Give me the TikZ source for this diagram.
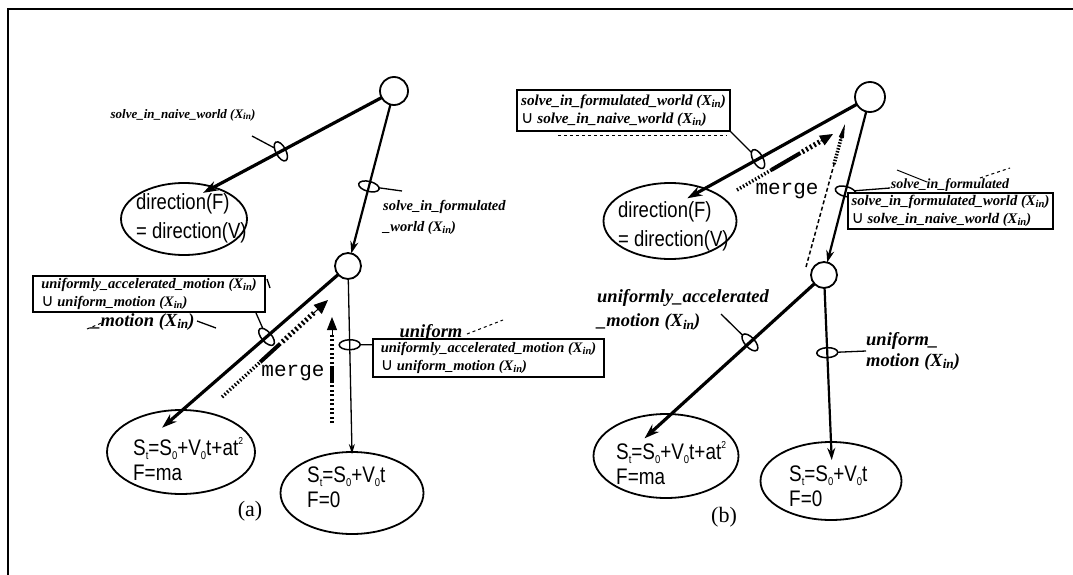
\documentclass[tikz,border=0pt]{standalone}
\usepackage{fontspec}
\usepackage{graphicx}
\setmainfont{Liberation Serif}
\newfontfamily\sansf{Liberation Sans}[FakeStretch=0.84]
\newfontfamily\monof{Liberation Mono}
\newfontfamily\symf{DejaVu Sans}
\usetikzlibrary{arrows.meta,shapes.geometric,calc}
\newcommand\lsub[1]{\raisebox{-0.3ex}{\scalebox{0.72}{#1}}}
\newcommand\xin{X\lsub{in}}
\newcommand\uni{{\symf\mdseries\upshape\fontsize{17}{17}\selectfont\symbol{"222A}}}
\newcommand\ssub[1]{\raisebox{-0.35ex}{\scalebox{0.5}{#1}}}
\newcommand\ssup[1]{\raisebox{0.95ex}{\scalebox{0.45}{#1}}}
\begin{document}
\begin{tikzpicture}[x=1pt,y=-1pt,
  frame/.style={line width=2pt},
  circ/.style={circle, draw, line width=1.8pt, minimum size=28pt, inner sep=0, outer sep=0},
  ell/.style={ellipse, draw, line width=1.8pt, inner sep=0, outer sep=0},
  etext/.style={font=\sansf\fontsize{22.5}{25}\selectfont, align=left, inner sep=0, anchor=west},
  dtext/.style={font=\sansf\fontsize{22}{29}\selectfont, align=left, inner sep=0, anchor=west},
  marker/.style={ellipse, draw, solid, line width=1.5pt, minimum width=10pt, minimum height=21pt, inner sep=0, outer sep=0},
  box/.style={draw, fill=white, line width=1.2pt, align=left, inner sep=0, font=\bfseries\itshape\fontsize{14.5}{18}\selectfont},
  lab/.style={font=\bfseries\itshape\fontsize{13}{21}\selectfont, align=left, inner sep=0},
  biglab/.style={font=\bfseries\itshape\fontsize{18.5}{24}\selectfont, align=left, inner sep=0},
  oldlab/.style={font=\bfseries\itshape\fontsize{18.5}{24}\selectfont, inner sep=0, anchor=base},
  thickedge/.style={line width=3.2pt, -{Stealth[length=15pt,width=10pt]}},
  midedge/.style={line width=2.2pt, -{Stealth[length=12pt,width=8pt]}},
  thinedge/.style={line width=1.3pt, -{Stealth[length=10pt,width=6pt]}},
  leader/.style={line width=1.3pt},
  strike/.style={line width=1pt, dashed},
  dotpart/.style={line width=3.5pt, dash pattern=on 1.5pt off 2pt},
  solidpart/.style={line width=4pt},
  hatchpart/.style={line width=5pt, dash pattern=on 2pt off 2.5pt},
  mhead/.style={line width=1pt, -{Triangle[length=14pt,width=12pt]}},
  mergetext/.style={font=\monof\fontsize{21}{21}\selectfont, inner sep=0},
  caption/.style={font=\fontsize{22}{22}\selectfont, inner sep=0}
]
\path[fill=white] (0,0) rectangle (1073,575);
\useasboundingbox (0,0) rectangle (1073,575);
% frame
\draw[frame] (7,9.5) -- (1073,9.5);
\draw[frame] (8,9) -- (8,575);

% ---------------- panel (a) ----------------
\node[circ] (A) at (394,91) {};
\node[circ, minimum size=26pt] (B) at (348,266) {};
\node[ell, minimum width=126pt, minimum height=72pt] (D1) at (184,219) {};
\node[dtext] (D1t) at (136,218) {direction(F)\\= direction(V)};
\node[ell, minimum width=148pt, minimum height=84pt] (S1) at (181,452) {};
\node[etext] (S1t) at (133,459) {S\ssub{t}=S\ssub{0}+V\ssub{0}t+at\ssup{2}\\F=ma};
\node[ell, minimum width=143pt, minimum height=82pt] (S2) at (352,493) {};
\node[etext] (S2t) at (307,487) {S\ssub{t}=S\ssub{0}+V\ssub{0}t\\F=0};

\draw[thickedge, shorten >=-12pt] (A) -- (D1.47) node[marker, pos=0.6, sloped] (m1) {};
\draw[midedge] (A) -- (B) node[marker, pos=0.55, sloped] (m2) {};
\draw[thickedge, shorten >=-27pt] (B) -- (S1.88) node[marker, pos=0.46, sloped] (m3) {};
\draw[thinedge, shorten >=-2pt] (B) -- (S2.north) node[marker, pos=0.38, sloped] (m4) {};

\node[lab] (L1) at (183,115) {solve\_in\_naive\_world (\xin)};
\coordinate (c1) at (252,136);
\draw[leader] (m1) -- (c1);
\node[lab, anchor=west, font=\bfseries\itshape\fontsize{14.5}{21}\selectfont] (L2) at (383,217) {solve\_in\_formulated\\\_world (\xin)};
\coordinate (c2) at (402,191);
\draw[leader] (m2) -- (c2);

% old label under box 1
\node[oldlab] (O1) at (143,326) {\_motion (\xin)};
\coordinate (o1a) at (87,329); \coordinate (o1b) at (104,322);
\draw[strike] (o1a) -- (o1b);
\coordinate (o1c) at (197,321); \coordinate (o1d) at (216,328);
\draw[leader] (o1c) -- (o1d);
\coordinate (o1e) at (267,279); \coordinate (o1f) at (270,288);
\draw[leader] (o1e) -- (o1f);
\node[box, minimum width=232pt, minimum height=36pt] (box1) at (149,294)
  {uniformly\_accelerated\_motion (\xin)\\\uni\ uniform\_motion (\xin)};
\coordinate (c3) at (256,313);
\draw[leader] (c3) -- (m3);

% old label over box 2
\node[oldlab] (O2) at (431,337) {uniform};
\coordinate (o2a) at (467,334); \coordinate (o2b) at (503,320);
\draw[strike] (o2a) -- (o2b);
\node[box, minimum width=231pt, minimum height=38pt] (box2) at (488.5,358)
  {uniformly\_accelerated\_motion (\xin)\\\uni\ uniform\_motion (\xin)};
\draw[leader] (m4) -- (m4 -| box2.west);

% merge arrows (a)
\coordinate (ma1s) at (222,397); \coordinate (ma1e) at (328,300);
\draw[dotpart] (ma1s) -- ($(ma1s)!0.36!(ma1e)$);
\draw[solidpart] ($(ma1s)!0.36!(ma1e)$) -- ($(ma1s)!0.55!(ma1e)$);
\draw[hatchpart] ($(ma1s)!0.57!(ma1e)$) -- ($(ma1s)!0.87!(ma1e)$);
\draw[mhead] ($(ma1s)!0.85!(ma1e)$) -- (ma1e);
\coordinate (ma2s) at (332,423); \coordinate (ma2e) at (332,317);
\draw[hatchpart, line width=4pt] (ma2s) -- ($(ma2s)!0.38!(ma2e)$);
\draw[solidpart] ($(ma2s)!0.38!(ma2e)$) -- ($(ma2s)!0.54!(ma2e)$);
\draw[hatchpart, line width=4pt] ($(ma2s)!0.56!(ma2e)$) -- ($(ma2s)!0.84!(ma2e)$);
\draw[mhead, -{Triangle[length=13pt,width=10pt]}] ($(ma2s)!0.82!(ma2e)$) -- (ma2e);
\node[mergetext] (mg1) at (293,373) {merge};
\node[caption] (capa) at (250,511) {(a)};

% ---------------- panel (b) ----------------
\node[circ, minimum size=30pt] (C) at (870,97) {};
\node[circ, minimum size=26pt] (E) at (824,275) {};
\node[ell, minimum width=133pt, minimum height=76pt] (D2) at (670,221) {};
\node[dtext] (D2t) at (618,226) {direction(F)\\= direction(V)};
\node[ell, minimum width=145pt, minimum height=84pt] (S3) at (666,456) {};
\node[etext] (S3t) at (616,463) {S\ssub{t}=S\ssub{0}+V\ssub{0}t+at\ssup{2}\\F=ma};
\node[ell, minimum width=141pt, minimum height=78pt] (S4) at (831,481) {};
\node[etext] (S4t) at (789,486) {S\ssub{t}=S\ssub{0}+V\ssub{0}t\\F=0};

\draw[thickedge, shorten >=-20pt] (C) -- (D2.43) node[marker, pos=0.65, sloped] (m5) {};
\draw[midedge] (C) -- (E) node[marker, pos=0.53, sloped] (m6) {};
\draw[thickedge, shorten >=-36pt] (E) -- (S3.83) node[marker, pos=0.45, sloped] (m7) {};
\draw[midedge, shorten >=-18pt] (E) -- (S4.north) node[marker, pos=0.42, sloped] (m8) {};

\node[box, minimum width=213pt, minimum height=41pt, font=\bfseries\itshape\fontsize{15.2}{18}\selectfont] (box3) at (623.5,110.5)
  {solve\_in\_formulated\_world (\xin)\\\uni\ solve\_in\_naive\_world (\xin)};
\coordinate (o3a) at (558,136); \coordinate (o3b) at (727,136);
\draw[strike] (o3a) -- (o3b);
\draw[leader] (box3.south east) -- (m5);

\node[oldlab, font=\bfseries\itshape\fontsize{14}{14}\selectfont] (O3) at (950,188) {solve\_in\_formulated};
\coordinate (o4a) at (897,170); \coordinate (o4b) at (927,182);
\draw[leader, line width=1pt] (o4a) -- (o4b);
\coordinate (o4c) at (980,178); \coordinate (o4d) at (1010,168);
\draw[strike] (o4c) -- (o4d);
\coordinate (c6) at (890,188);
\draw[leader] (m6) -- (c6);
\node[box, minimum width=205pt, minimum height=36pt, font=\bfseries\itshape\fontsize{14.7}{18}\selectfont] (box4) at (950.5,211)
  {solve\_in\_formulated\_world (\xin)\\\uni\ solve\_in\_naive\_world (\xin)};

\node[biglab, anchor=west] (L7) at (597,310) {uniformly\_accelerated\\\_motion (\xin)};
\coordinate (c7) at (721,314);
\draw[leader] (m7) -- (c7);
\node[biglab, anchor=west, font=\bfseries\itshape\fontsize{18.5}{21}\selectfont] (L8) at (866,351) {uniform\_\\motion (\xin)};
\draw[leader] (m8) -- (L8.west);

% merge arrows (b)
\coordinate (mb1s) at (737,190); \coordinate (mb1e) at (833,134);
\draw[dotpart] (mb1s) -- ($(mb1s)!0.36!(mb1e)$);
\draw[solidpart] ($(mb1s)!0.36!(mb1e)$) -- ($(mb1s)!0.66!(mb1e)$);
\draw[hatchpart] ($(mb1s)!0.68!(mb1e)$) -- ($(mb1s)!0.89!(mb1e)$);
\draw[mhead, -{Triangle[length=13pt,width=11pt]}] ($(mb1s)!0.87!(mb1e)$) -- (mb1e);
\coordinate (mb2s) at (806,267); \coordinate (mb2e) at (845,124);
\draw[line width=1.5pt, dash pattern=on 4pt off 2.5pt] (mb2s) -- ($(mb2s)!0.72!(mb2e)$);
\draw[line width=3.5pt, dash pattern=on 1.5pt off 1.5pt] ($(mb2s)!0.72!(mb2e)$) -- ($(mb2s)!0.91!(mb2e)$);
\draw[line width=1pt, -{Triangle[length=14pt,width=5pt]}] ($(mb2s)!0.89!(mb2e)$) -- (mb2e);
\node[mergetext] (mg2) at (787,191) {merge};
\node[caption] (capb) at (724,517) {(b)};
\end{tikzpicture}
\end{document}
